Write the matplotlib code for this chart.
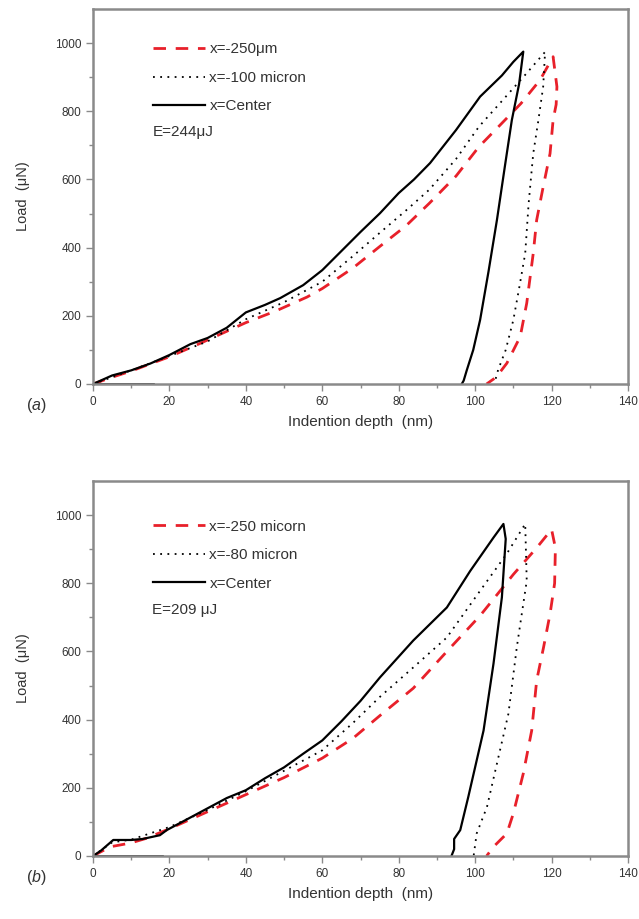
import numpy as np
import matplotlib.pyplot as plt

plt.rcParams['font.family'] = ['Liberation Sans', 'DejaVu Sans']
plt.rcParams['mathtext.fontset'] = 'custom'
plt.rcParams['mathtext.rm'] = 'Liberation Sans'
plt.rcParams['mathtext.it'] = 'Liberation Sans:italic'

# ---- panel (a) data ----
a_red_load_x = [0, 5, 10, 20, 27.6, 40, 48, 56, 60, 68, 75, 82, 88, 95, 101, 107, 112, 117, 120.4]
a_red_load_y = [0, 20, 38, 80, 117, 180, 215, 255, 280, 340, 403, 465, 530, 610, 696, 765, 823, 892, 960]
a_red_unl_x = [120.4, 121.4, 121.2, 120.4, 119.6, 117.8, 116.1, 115.2, 113.5, 111.8, 108.3, 105.5, 103]
a_red_unl_y = [960, 872, 820, 774, 676, 578, 481, 383, 237, 139, 61, 20, 0]

a_dot_load_x = [0, 10, 20, 30, 40, 50, 60, 68, 75, 82, 88, 95, 101, 107, 113.5, 118.3]
a_dot_load_y = [0, 40, 82, 125, 190, 240, 300, 375, 443, 510, 570, 660, 755, 830, 912, 974]
a_dot_unl_x = [118.3, 117.8, 116.5, 115.2, 114.0, 113.1, 111.5, 110, 108, 106, 105]
a_dot_unl_y = [974, 872, 770, 676, 530, 383, 280, 188, 100, 41, 0]

a_ctr_load_x = [0, 3, 5, 10, 15, 20, 25.5, 30, 35, 40, 45, 49, 55, 60, 65, 70, 75.1, 80, 84, 88.2, 95, 101.3, 107, 110, 112.6]
a_ctr_load_y = [0, 15, 25, 40, 60, 85, 117, 135, 165, 210, 232, 252, 290, 334, 390, 446, 501, 560, 600, 648, 745, 843, 905, 945, 975]
a_ctr_unl_x = [112.6, 111.5, 109.6, 107.8, 105.7, 103.5, 101.3, 99.5, 97.8, 97, 96.5]
a_ctr_unl_y = [975, 880, 774, 640, 481, 330, 188, 100, 40, 10, 0]
a_ctr_base_x = [0, 16]
a_ctr_base_y = [0, 0]

# ---- panel (b) data ----
b_red_load_x = [0, 4.5, 9.8, 14, 20, 30, 40, 50, 60, 68, 75.1, 83.8, 92.6, 101.3, 110, 116.1, 120]
b_red_load_y = [0, 27, 38, 52, 80, 130, 180, 230, 287, 345, 412, 492, 600, 705, 826, 904, 958]
b_red_unl_x = [120, 121, 120.8, 119.6, 117.9, 116.1, 114.8, 112.6, 110, 108.3, 104.8, 103]
b_red_unl_y = [958, 904, 800, 710, 612, 515, 368, 242, 125, 66, 27, 0]

b_dot_load_x = [0, 5, 10, 20, 30, 40, 50, 60, 68, 75.1, 83.8, 92.6, 101.3, 108.3, 113.1]
b_dot_load_y = [0, 40, 48, 85, 135, 190, 250, 310, 390, 467, 553, 641, 778, 887, 974]
b_dot_unl_x = [113.1, 113.5, 112.2, 110.9, 108.7, 105.7, 103.1, 100.4, 99.6]
b_dot_unl_y = [974, 807, 710, 612, 417, 271, 144, 66, 0]

b_ctr_load_x = [0, 2, 5.3, 10, 13, 17.5, 19.3, 25, 30, 35, 40, 45, 50, 55, 60, 65, 70, 75.1, 83.8, 92.6, 98.7, 104.8, 107.4]
b_ctr_load_y = [0, 15, 47, 47, 50, 61, 76, 110, 140, 170, 193, 228, 260, 300, 339, 395, 455, 524, 632, 729, 836, 934, 974]
b_ctr_unl_x = [107.4, 108, 107, 104.8, 102.2, 98.2, 96.1, 94.5, 94.5, 93.8]
b_ctr_unl_y = [974, 930, 759, 564, 368, 173, 76, 50, 20, 0]
b_ctr_base_x = [0, 18.3]
b_ctr_base_y = [0, 0]

xticks = [0, 20, 40, 60, 80, 100, 120, 140]
yticks = [0, 200, 400, 600, 800, 1000]

panels = [
    dict(pos=[93/639, (919-384)/919, 535/639, 375/919], tag='a', leg_top=0.911, e_y=0.672,
         labels=['x=-250\u03bcm', 'x=-100 micron', 'x=Center'], energy='E=244\u03bcJ',
         red=(a_red_load_x + a_red_unl_x, a_red_load_y + a_red_unl_y),
         dot=(a_dot_load_x + a_dot_unl_x, a_dot_load_y + a_dot_unl_y),
         ctr=(a_ctr_load_x + a_ctr_unl_x, a_ctr_load_y + a_ctr_unl_y),
         base=(a_ctr_base_x, a_ctr_base_y)),
    dict(pos=[93/639, (919-856)/919, 535/639, 375/919], tag='b', leg_top=0.897, e_y=0.656,
         labels=['x=-250 micorn', 'x=-80 micron', 'x=Center'], energy='E=209 \u03bcJ',
         red=(b_red_load_x + b_red_unl_x, b_red_load_y + b_red_unl_y),
         dot=(b_dot_load_x + b_dot_unl_x, b_dot_load_y + b_dot_unl_y),
         ctr=(b_ctr_load_x + b_ctr_unl_x, b_ctr_load_y + b_ctr_unl_y),
         base=(b_ctr_base_x, b_ctr_base_y)),
]

fig = plt.figure(figsize=(6.39, 9.19), dpi=100)
txt = '#333333'
spine_c = '#8a8a8a'

for p in panels:
    ax = fig.add_axes(p['pos'])
    ax.plot(*p['red'], color='#e8202a', ls=(0, (4.5, 3.5)), lw=2.0, label=p['labels'][0])
    ax.plot(*p['dot'], color='black', ls=(0, (1, 3)), lw=1.3, label=p['labels'][1])
    ax.plot(*p['ctr'], color='black', ls='-', lw=1.6, label=p['labels'][2])
    ax.plot(*p['base'], color='black', lw=1.2)

    ax.set_xlim(0, 140)
    ax.set_ylim(0, 1100)
    ax.set_xticks(xticks)
    ax.set_yticks(yticks)
    ax.set_xticks(np.arange(10, 140, 20), minor=True)
    ax.set_yticks(np.arange(100, 1100, 200), minor=True)
    ax.tick_params(which='major', direction='out', length=5, width=1, colors=spine_c,
                   labelcolor=txt, labelsize=8.5)
    ax.tick_params(which='minor', direction='out', length=3, width=1, colors=spine_c)
    for s in ax.spines.values():
        s.set_color(spine_c)
        s.set_linewidth(1.8)

    ax.set_xlabel('Indention depth  (nm)', fontsize=11, color=txt, labelpad=5)
    ax.set_ylabel('Load  (\u03bcN)', fontsize=10.5, color=txt, labelpad=18)
    ax.text(-0.125, -0.058, '($\\it{' + p['tag'] + '}$)', transform=ax.transAxes,
            fontsize=11.5, color=txt, va='center')

    leg = ax.legend(loc='upper left', bbox_to_anchor=(0.112, p['leg_top']), frameon=False,
                    fontsize=11, handlelength=3.4, handletextpad=0.3, labelspacing=0.95,
                    borderaxespad=0, borderpad=0)
    for t in leg.get_texts():
        t.set_color(txt)
    ax.text(0.111, p['e_y'], p['energy'], transform=ax.transAxes,
            fontsize=11, color=txt, va='center')

fig.savefig('out.png', dpi=100)
